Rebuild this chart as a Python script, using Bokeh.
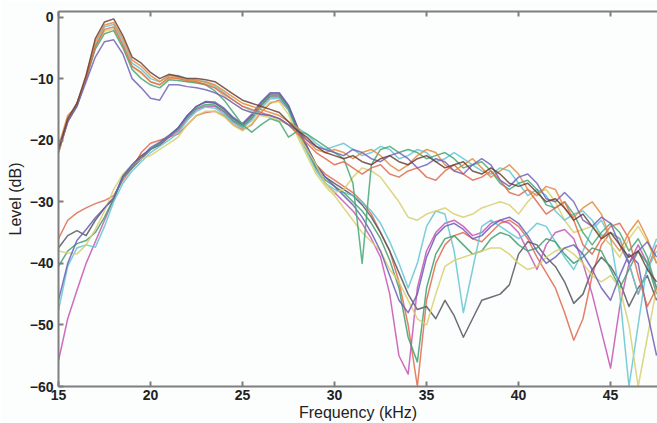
from bokeh.plotting import figure
from bokeh.models import Range1d, FixedTicker, LinearAxis, CustomJSTickFormatter
from bokeh.embed import file_html
from bokeh.resources import INLINE

# ---------------- data ----------------
freq_khz = [15, 15.5, 16, 16.5, 17, 17.5, 18, 18.5, 19, 19.5,
            20, 20.5, 21, 21.5, 22, 22.5, 23, 23.5, 24, 24.5,
            25, 25.5, 26, 26.5, 27, 27.5, 28, 28.5, 29, 29.5,
            30, 30.5, 31, 31.5, 32, 32.5, 33, 33.5, 34, 34.5,
            35, 35.5, 36, 36.5, 37, 37.5, 38, 38.5, 39, 39.5,
            40, 40.5, 41, 41.5, 42, 42.5, 43, 43.5, 44, 44.5,
            45, 45.5, 46, 46.5, 47, 47.5]

# upper family (peak near 18 kHz)
upper_1 = [-21.5, -16.5, -14, -9.5, -3.5, -0.8, -0.3, -3, -6.5, -7.5, -9, -10, -9.3, -9.6, -10, -10, -10.2, -10.5, -11.5, -12.5, -13.5, -14, -14.5, -15, -15.5, -17,
           -18.5, -19.5, -21, -22, -22.5, -23, -22.5, -23.5, -24, -23, -22.5, -23.5, -24, -23, -22.5, -23.5, -24.5, -24, -23.5, -25, -25.5, -24.5, -25.5, -27, -27.5, -27, -28.5, -30, -29.5, -31, -33, -32, -34, -36, -35, -37, -39, -38, -41, -43]
upper_2 = [-21, -16, -14.5, -9.5, -4, -1.3, -0.9, -3.5, -7, -8, -9.5, -10.5, -9.5, -9.8, -10.2, -10.3, -10.5, -11, -12, -13, -14, -14.5, -15, -15.5, -16, -17,
           -18, -20, -21.5, -22, -21.5, -22, -23, -22, -21.5, -22.5, -24, -25, -24, -22.5, -21.5, -22, -24, -25, -24, -23, -24.5, -26, -25, -24, -25.5, -28, -29, -27.5, -28, -31, -32.5, -31, -30, -32, -36, -38, -35, -33, -36, -40]
upper_3 = [-22, -17, -14, -10, -4.8, -2, -1.6, -4.5, -8, -9, -10.5, -11, -9.8, -10, -10.3, -10.5, -11, -11.5, -12.5, -13.5, -14.5, -15, -15.5, -16, -16.5, -17.5,
           -19, -20.5, -22, -23, -24, -23.5, -24.5, -25.5, -24.5, -24, -25.5, -26, -25, -24.5, -26, -26.5, -25, -24, -25.5, -26.5, -26, -25, -26.5, -28.5, -29, -28, -30, -32, -31, -30, -33, -37, -38.5, -36, -34, -33.5, -36, -42, -47, -44]
upper_4 = [-21.5, -16.5, -14.5, -10, -4.5, -1.6, -1.2, -4, -7.5, -8.5, -10, -10.5, -9.5, -9.5, -10, -10.2, -10.6, -11.2, -12.3, -13.5, -14.5, -15.2, -15.8, -16, -16.5, -17.5,
           -18, -19, -20.5, -21.5, -21, -20.5, -21.5, -22.5, -22, -21, -21.5, -23, -22.5, -21.5, -22, -23.5, -23, -22, -23, -24, -25, -25.5, -24.5, -25, -27, -29, -28, -29, -31.5, -33, -32, -31.5, -33, -35.5, -35, -36, -40, -45, -41, -38]
upper_5 = [-22, -17, -14.5, -10, -5.2, -2.7, -2.2, -5, -8.5, -10, -11, -11.5, -10.2, -10.3, -10.5, -10.7, -11, -12, -13.5, -15.5, -17.5, -18.7, -17.5, -16.5, -17, -19.5,
           -18.5, -19, -20, -21, -22, -23, -27, -40, -24, -21.5, -21, -22, -21.5, -22, -23, -22.5, -22, -23, -24.5, -24, -23.5, -25, -27, -28, -27, -26.5, -28, -30.5, -31, -30, -32, -35, -37, -35, -33.5, -35, -38, -36, -39, -44]
upper_6 = [-22, -17, -14, -10, -4.8, -2.3, -1.9, -4.8, -8, -9.2, -10.5, -11, -10, -10, -10.5, -10.6, -10.8, -11.5, -12.8, -14, -15, -15.5, -16, -16.3, -16.8, -17.5,
           -19, -21.5, -24, -27, -28.5, -28, -26, -24.5, -25, -26, -28, -30, -32.5, -33, -32, -31.5, -31, -32, -32.5, -32, -31, -30.5, -30, -30.5, -32, -30, -28.5, -28, -30, -33, -35, -34.5, -34, -35.5, -37, -39, -36, -34, -36.5, -40]
upper_7 = [-21.5, -17, -14.5, -10.5, -6.5, -4, -3.7, -6, -10, -11.5, -13.2, -13.5, -11, -11, -11.3, -11.5, -11.8, -12.3, -13, -14, -15, -15.5, -15.8, -16, -16.5, -17.5,
           -18.5, -20, -21, -21.5, -22, -22.5, -21.5, -22, -23, -23.5, -22.5, -22, -23, -24.5, -24, -23, -23.5, -25, -25.5, -24, -23, -24, -26.5, -27.5, -26, -25.5, -27, -29.5, -30, -28.5, -30, -33, -34, -32.5, -33.5, -37, -40, -38, -36.5, -39]

# lower family (peak near 27 kHz)
lower_1 = [-36, -33, -31.8, -31, -30.3, -29.8, -29, -26.5, -24.5, -22, -20.5, -20, -19.5, -19, -17.5, -16, -15.5, -15.3, -16, -17.5, -18.3, -17.5, -15.5, -14, -13.5, -15,
           -18.5, -21.5, -24, -25.5, -26.5, -27.5, -28.5, -30, -32, -35, -38, -43, -50, -60, -46, -40, -37, -35.5, -35, -36, -36.5, -35, -33.5, -33, -34, -36, -39, -41.5, -44, -48, -52.5, -49, -42, -37, -35, -36, -40, -45, -41, -37]
lower_2 = [-37.5, -35.5, -34.7, -35.5, -33, -31, -29.5, -26, -24, -22.5, -21.5, -20.8, -19.5, -18, -16, -14.5, -13.8, -14, -15, -16.5, -17.5, -16, -14, -12.5, -12.5, -14.5,
           -18, -21, -24, -26, -27, -28, -29, -30.5, -32.5, -35, -38, -41.5, -45, -47.5, -47, -49, -46, -48.5, -52, -49, -46, -45.5, -45, -43.5, -38.5, -36.5, -37, -39, -40.5, -43, -46.5, -45, -41, -39, -40.5, -43, -47, -44, -42, -46]
lower_3 = [-55.8, -49, -44.4, -40, -36.5, -33, -29.5, -26, -24.5, -23, -21.5, -20.5, -19.5, -18.5, -16.5, -15, -14.5, -14.5, -15.5, -17, -18, -16.5, -14.5, -13, -13, -15,
           -18.5, -21.5, -24.5, -27, -28.5, -30, -31.5, -33.5, -36, -39, -45, -55, -58, -44, -38, -35, -33.5, -33, -34, -35.5, -35, -33.5, -33, -33.5, -35, -38, -41, -37, -35, -34.5, -36, -40, -45, -51, -57, -47, -40, -37, -40, -44]
lower_4 = [-47.6, -40.5, -37.5, -37, -37.4, -34, -30, -27, -25, -23.5, -22, -21, -20, -18.8, -16.8, -15.3, -14.6, -14.8, -15.8, -17.2, -18, -16.8, -14.8, -13.3, -13.2, -15.2,
           -19, -22, -25, -27, -28, -28.5, -29, -30, -31.5, -33.5, -36.5, -40, -44, -40, -34, -31.5, -32, -38, -48, -41, -34, -33, -34, -35, -36, -35, -33.5, -34, -36.5, -39, -41, -38, -34.5, -33, -36, -45, -60, -50, -40, -36]
lower_5 = [-40.5, -38, -36.8, -36.3, -35, -32.5, -29.5, -26, -24.5, -23, -21.5, -20.5, -19.3, -18.2, -16.2, -14.8, -14.2, -14.3, -15.3, -16.8, -17.7, -16.3, -14.3, -12.8, -12.8, -14.8,
           -18.5, -21.5, -24.5, -26.5, -27.5, -28.5, -30, -31.5, -33.5, -36, -39.5, -44, -52, -56, -44, -38.5, -36, -35.5, -37, -38.5, -38, -36, -35, -35.5, -37, -38, -37.5, -36, -36.5, -38.5, -40, -39, -37.5, -38, -41, -44, -41, -38, -40, -45]
lower_6 = [-38, -38.3, -38.5, -37, -34.5, -31.5, -28, -25.5, -24, -23, -22.5, -21.5, -20.5, -19.5, -17.5, -16, -15.3, -15.3, -16.2, -17.6, -18.5, -17.3, -15.3, -13.8, -13.8, -15.8,
           -19.5, -22.5, -25.5, -27.5, -29, -31, -33, -35, -36.5, -38, -41, -43, -46, -49, -50, -45, -40.5, -39.5, -39, -38.5, -38, -37.5, -37.5, -38.5, -40, -41, -40.5, -39, -38, -37.5, -38.5, -40, -42, -43, -42, -44, -50, -60, -52, -44]
lower_7 = [-46, -40, -36.3, -34.5, -32.6, -31, -29.3, -25.8, -24, -22.8, -21.2, -20.3, -19.2, -18, -16, -14.5, -13.7, -13.8, -14.8, -16.3, -17.3, -15.8, -13.8, -12.3, -12.3, -14.3,
           -18, -21, -24, -26, -27.5, -29, -30.5, -32.5, -35, -38, -42, -46, -48, -45, -39, -35.5, -34, -33.5, -34.5, -36, -35.5, -34, -33, -32.5, -33.5, -35.5, -38, -40, -39, -37.5, -37, -38.5, -41, -44, -46, -42, -38.5, -40, -48, -55]

x_ticks = [15, 20, 25, 30, 35, 40, 45]
y_ticks = [0, -10, -20, -30, -40, -50, -60]

# ---------------- styling ----------------
series = [
    (lower_1, "#e2694c"), (lower_2, "#55555f"), (lower_3, "#c653b3"),
    (lower_4, "#62c6d3"), (lower_5, "#3f9f6d"), (lower_6, "#d8cf6c"),
    (lower_7, "#6c5db5"),
    (upper_6, "#d8cf6c"), (upper_4, "#62c6d3"), (upper_5, "#46a674"),
    (upper_3, "#e2694c"), (upper_2, "#e58a3c"), (upper_7, "#7462b8"),
    (upper_1, "#6a3f34"),
]

for ys, _ in series:
    assert len(ys) == len(freq_khz), len(ys)

AXIS_COLOR = "#7f7f7f"
TEXT_COLOR = "#222222"
FONT = "Liberation Sans"

p = figure(width=657, height=423,
           x_range=Range1d(15, 47.55), y_range=Range1d(-60, 0.9),
           output_backend="svg", toolbar_location=None,
           x_axis_label="Frequency (kHz)", y_axis_label="Level (dB)",
           min_border_left=58, min_border_top=11, min_border_right=0,
           min_border_bottom=36)

bottom_axis = p.below[0]
left_axis = p.left[0]

p.background_fill_color = "#fcfdfd"
p.border_fill_color = "#fcfdfd"
p.outline_line_color = None
p.xgrid.visible = False
p.ygrid.visible = False

for ys, col in series:
    p.line(freq_khz, ys, line_color=col, line_width=1.5, line_alpha=0.85,
           line_join="round")

top_axis = LinearAxis(formatter=CustomJSTickFormatter(code="return ''"))
p.add_layout(top_axis, "above")

for ax in [bottom_axis, left_axis, top_axis]:
    ax.axis_line_color = AXIS_COLOR
    ax.axis_line_width = 2
    ax.major_tick_line_color = AXIS_COLOR
    ax.major_tick_line_width = 2
    ax.major_tick_in = 5
    ax.major_tick_out = 0
    ax.minor_tick_line_color = None
    ax.major_label_text_font = FONT
    ax.major_label_text_font_style = "bold"
    ax.major_label_text_font_size = "14px"
    ax.major_label_text_color = TEXT_COLOR
    ax.axis_label_text_font = FONT
    ax.axis_label_text_font_style = "normal"
    ax.axis_label_text_font_size = "16px"
    ax.axis_label_text_color = TEXT_COLOR

bottom_axis.ticker = FixedTicker(ticks=x_ticks)
top_axis.ticker = FixedTicker(ticks=x_ticks)
left_axis.ticker = FixedTicker(ticks=y_ticks)

bottom_axis.major_label_standoff = 3
bottom_axis.axis_label_standoff = 1
left_axis.major_label_standoff = 5
left_axis.axis_label_standoff = 3

top_axis.major_label_text_font_size = "0px"
top_axis.major_label_standoff = 0

open("out.html", "w").write(file_html(p, INLINE))
